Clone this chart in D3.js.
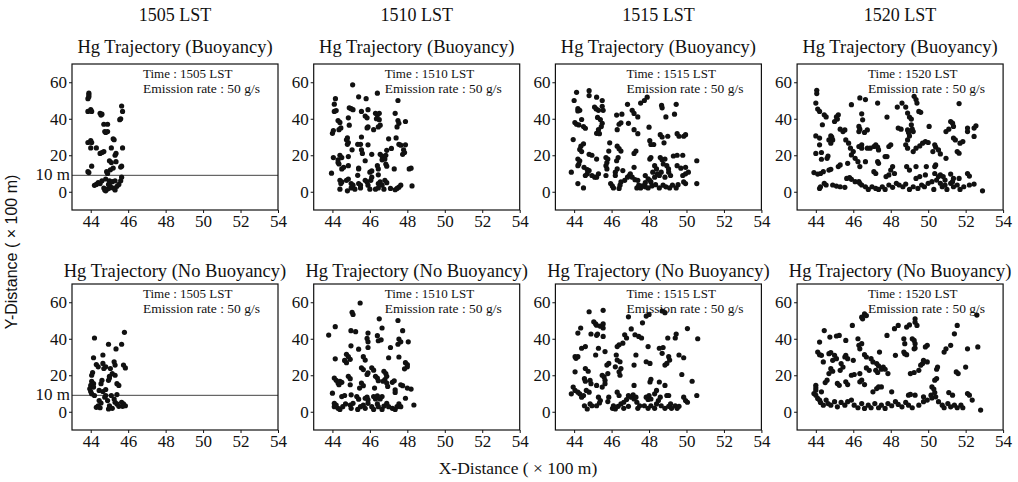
<!DOCTYPE html>
<html>
<head>
<meta charset="utf-8">
<script src="https://cdn.jsdelivr.net/npm/d3@7"></script>
<style>
  body { margin: 0; background: #fff; }
  text { fill: #111; }
</style>
</head>
<body>
<div id="chart"></div>
<script>
// times and titles
var times = ["1505", "1510", "1515", "1520"];
var rowTitles = ["Hg Trajectory (Buoyancy)", "Hg Trajectory (No Buoyancy)"];
var xTicks = [44, 46, 48, 50, 52, 54];
var yTicks = [0, 20, 40, 60];
var refLineY = 9;          // the "10 m" line, only in the 1505 panels
var refLineLabel = "10 m";
var emission = "Emission rate : 50 g/s";

// particle positions [x, y] (x 100 m)
var buoy1505 = [[43.9,54],[43.9,53],[43.85,51],[43.9,52],[43.85,44],[44.0,45],[44.05,44],[44.5,43],[44.55,42],[44.6,42.5],[44.7,37],[44.9,37],[44.75,33],[44.9,33],[44.8,32.5],[43.85,27],[44.0,28],[44.05,27],[44.0,24],[44.3,24],[44.5,21],[44.7,22],[44.6,21.5],[45.2,29],[45.25,28.5],[45.1,24],[45.3,20],[45.35,21],[45.0,17],[45.1,16],[45.35,16.5],[45.2,13],[45.05,12],[45.65,47],[45.7,44],[45.6,40],[45.55,39.5],[45.7,24],[45.65,14],[45.6,13.5],[43.85,11],[43.9,10.5],[44.05,14],[44.85,11],[44.9,10],[44.3,4],[44.4,5],[44.5,4.5],[44.2,3.5],[44.7,2],[44.75,1],[44.8,0.5],[44.9,1.5],[45.0,2],[45.05,3],[45.2,2],[45.3,1],[45.4,3],[45.5,4],[45.6,6],[45.65,8],[44.6,6],[44.8,7],[45.0,6],[45.15,5.5],[45.3,6],[44.95,4]];

var buoy1510 = [[45.08,58.6],[45.4,52],[45.8,51],[46.4,54],[47.5,50],[44.16,51],[44.1,48],[44.9,46],[45.0,45.5],[45.1,45],[45.55,44],[45.75,41.5],[45.85,40.5],[45.9,45],[46.3,43],[46.4,42],[46.5,43],[46.35,40],[46.5,39.5],[44.1,44],[44.2,44.5],[44.3,39],[44.4,38],[44.45,35],[44.35,34],[44,32],[44.05,33.5],[44.85,40.5],[44.9,36.5],[45.9,35.5],[45.85,35],[46.2,34],[46.55,36.5],[46.45,35.5],[47.35,43],[47.5,39],[47.45,35.5],[47.55,37.5],[47.9,38.5],[47.0,29],[47.4,29.5],[47.65,25.5],[47.55,26],[47.9,25.7],[47.8,23],[47.85,21.5],[47.75,20.5],[44.8,29.5],[44.75,28.5],[44.85,27],[44.8,26],[45.35,26],[45.5,26],[45.55,30],[45.9,25.7],[45.05,23],[45.55,23],[45.6,21],[45.75,17],[46.1,20.5],[46.55,20.5],[46.65,19.6],[46.75,18.7],[46.65,17.5],[46.8,17.9],[46.85,20],[46.9,22.7],[47.15,23.75],[44.05,18.75],[44.3,17.5],[44.3,16],[44.35,15.2],[44.4,20],[44.5,18.75],[44.85,19.3],[43.95,10.2],[44.5,12.5],[44.6,13.4],[44.85,14.3],[45.4,12.5],[45.4,13],[45.35,9],[46.0,10.7],[46.1,11.4],[46.4,14.3],[46.45,12.5],[46.45,9.3],[46.1,8],[46.05,6.25],[46.9,14],[46.85,15.2],[47.3,12.5],[48.2,12.9],[48.1,12.5],[44.4,6.25],[44.5,5.4],[44.45,4.5],[44.75,6.25],[44.85,7],[45.0,4.5],[45.1,3.6],[45.4,4.5],[45.5,3.6],[45.75,6.25],[45.85,5.4],[45.9,3.6],[46.45,4.5],[46.55,5.4],[46.65,3.6],[46.8,6.25],[46.9,5],[44.4,1.4],[44.8,0.5],[45.0,2.1],[45.2,1.4],[45.5,2.1],[46.0,1.4],[46.3,1.4],[46.45,2.1],[46.75,1.4],[47.1,1.8],[47.35,1.1],[47.45,1.8],[47.55,2.5],[47.65,3.6],[48.25,3.2]];

var buoy1515 = [[44.13,54.5],[44.0,50],[44.8,55.4],[44.8,52.7],[45.2,51.8],[45.5,50],[44.2,45.5],[44.3,44.6],[44.2,44.3],[45.09,46.4],[45.18,45.4],[45.3,44.6],[45.5,46.8],[45.55,44.6],[44.4,39.6],[44.04,37.9],[44.13,37],[44.25,36.6],[44.5,35.7],[44.6,34.8],[45.25,40.7],[45.4,39.6],[45.5,37.5],[45.45,35.7],[45.3,34],[45.2,32],[45.35,31.8],[46.27,42],[46.55,42.5],[46.85,47.9],[47.1,44.6],[47.2,42.9],[47.4,41],[46.9,37.5],[47.2,34],[47.4,31.8],[46.4,37],[46.5,37.8],[46.3,34],[47.55,48.6],[47.75,50],[47.9,51.8],[48.0,35.4],[48.67,47.3],[48.7,46],[49.45,47.9],[49.36,42.5],[48.9,41],[48.6,31.25],[48.7,30],[49.0,30.4],[49.5,31.8],[49.6,30.4],[49.85,30.4],[49.95,31.25],[43.95,28.6],[44.36,25],[44.5,26.25],[44.3,23.2],[44.4,22],[44.8,20.5],[44.95,20],[45.2,17.9],[44.2,17.9],[44.3,17],[44.25,15.2],[44.2,14.3],[43.85,10.7],[44.2,4.5],[44.5,2.1],[44.53,13.4],[44.7,12.1],[44.7,9.8],[44.6,8.9],[44.95,8.9],[45.1,8],[44.8,11.6],[45.3,9.8],[45.2,8],[45.7,18.75],[45.8,17.9],[45.75,16],[45.85,22.3],[45.9,26.8],[45.7,14.3],[45.75,12.5],[45.7,8.9],[46.3,25],[46.4,23.6],[46.5,22.3],[46.35,18.75],[46.27,17],[46.3,12.5],[46.2,10.7],[46.2,8.9],[46.6,11.6],[45.95,4.5],[46.04,3.2],[46.1,2.1],[46.5,5.4],[46.45,3.6],[46.4,1.8],[46.7,6.25],[46.85,8],[46.95,8.9],[47.0,9.8],[47.1,8],[47.25,6.6],[47.4,6.25],[47.35,2.1],[47.2,21],[47.3,22.3],[47.2,13.4],[48.04,28],[48.1,25.9],[48.25,25.9],[48.04,17.9],[48.1,18.75],[48.6,18.75],[48.7,17.5],[48.85,17.9],[48.8,26.8],[48.3,14.3],[48.4,12.5],[48.76,15.2],[48.95,14.3],[49.04,12.5],[49.3,19.6],[49.5,20],[49.8,20],[49.5,14.3],[49.7,12.9],[49.95,13.4],[50.1,10.7],[49.8,8.9],[49.95,9.8],[49.85,5.4],[49.95,4.5],[50.55,17],[50.55,4.5],[47.8,8.9],[47.95,7.1],[48.04,6.25],[48.1,5.4],[47.8,5],[48.2,10.7],[48.3,8],[47.8,2.7],[47.95,2.1],[48.15,3.2],[48.35,3.9],[48.55,2.1],[48.75,3.6],[48.9,2.7],[49.1,2.1],[49.25,3.6],[49.45,2.1],[49.55,3.9],[47.65,3.2],[47.55,2.1],[47.45,3.6],[48.45,9.8],[48.55,8.9],[48.65,10.7],[48.85,8],[49.05,10.7],[49.15,8.9]];

var buoy1520 = [[44.05,55.6],[44.05,53.8],[44.0,48.6],[44.1,45.3],[44.2,44],[44.45,42.2],[44.55,41],[44.35,36.7],[44.0,30.6],[44.2,29.4],[44.0,21],[44.3,21.5],[44.2,25.7],[44.8,30.6],[44.85,29.9],[44.9,28.4],[44.7,28.4],[44.8,26.6],[45.0,38.5],[45.1,41],[45.2,42.2],[45.15,39.8],[45.3,34.3],[45.55,33.9],[45.45,33],[45.6,28.4],[45.75,26.6],[44.6,18.3],[44.65,19.6],[44.3,17.8],[44.4,11],[44.25,10],[44.1,9.7],[43.9,10.5],[44.7,11.9],[44.8,12.3],[45.2,13.8],[45.3,14.7],[45.7,15.6],[44.45,4.6],[44.2,1.8],[44.25,2.75],[44.55,3.7],[44.9,3.7],[45.1,3.1],[45.3,2.75],[45.55,2.4],[45.65,7.3],[45.8,7.7],[45.9,6.8],[46.1,5.5],[46.3,5.5],[46.35,4.6],[46.45,3.7],[46.65,2.75],[45.9,20.2],[46.0,22],[45.85,23.9],[46.3,35.8],[46.35,34.3],[46.3,33],[46.45,25.7],[46.45,23.9],[46.3,24.8],[46.35,51.4],[46.65,50.5],[46.45,42.7],[46.5,39.4],[45.9,47.7],[46.75,33.9],[46.6,32.5],[46.1,18.3],[46.25,16.5],[46.35,13.8],[46.65,16.5],[46.75,23.9],[46.9,23.9],[47.1,24.8],[47.2,25.7],[47.3,24.4],[47.35,22.9],[47.3,16.5],[47.35,15.6],[47.1,11],[47.2,10],[47.3,48.6],[47.8,40.9],[47.7,19.3],[47.8,19.3],[47.9,24.8],[48.0,25.7],[48.1,13.8],[48.0,11.9],[48.2,10],[47.9,9.2],[47.75,8.3],[48.35,46.4],[48.6,48.6],[48.8,46.4],[48.4,34.9],[48.55,34.3],[48.9,43.1],[49.0,40.9],[49.1,39.8],[48.9,33.9],[48.95,32.5],[49.0,30.6],[48.9,28.4],[48.9,23.9],[48.8,25.7],[49.1,36.7],[49.15,34.3],[49.2,33],[49.25,52.3],[49.35,50.5],[49.4,48.6],[49.5,44],[49.6,43.5],[49.2,22],[49.35,23.9],[49.55,25.1],[49.7,26.6],[49.85,27.5],[50.0,27],[50.05,35.8],[48.85,13.8],[49.0,11.9],[49.35,13.8],[49.9,13.8],[49.85,9.2],[49.55,8.3],[49.35,7.3],[50.35,25.7],[50.4,24.4],[50.25,22],[50.55,22.9],[50.65,20.7],[50.95,33],[51.1,34.3],[50.95,18.3],[51.2,38.5],[51.3,37.6],[51.35,35.8],[50.4,14.7],[50.35,13.8],[50.35,10],[50.55,8.3],[50.65,9.2],[51.35,29.4],[51.45,28.4],[51.55,22],[51.65,21.1],[51.7,26.6],[51.85,27.5],[51.65,48.3],[52.1,34.9],[52.1,33],[52.45,34.9],[52.55,36.1],[52.45,30.3],[52.1,10],[52.2,8.6],[52.45,4.2],[52.9,0.5],[46.8,1.3],[47.0,2.75],[47.2,1.8],[47.35,1.3],[47.55,2.75],[47.7,1.3],[47.9,3.7],[48.1,2.4],[48.3,4.6],[48.45,3.7],[48.65,2.75],[48.8,4.2],[49.0,1.3],[49.2,2.75],[49.45,1.8],[49.65,3.7],[49.8,2.75],[50.0,4.6],[50.2,5.5],[50.3,1.3],[50.45,6.4],[50.65,4.6],[50.75,2.75],[50.9,3.7],[51.0,1.3],[51.2,4.6],[51.3,5.5],[51.35,2.75],[51.55,3.7],[51.7,1.3],[51.9,2.75],[52.2,3.7],[51.35,7.3],[51.2,9.7],[51.65,7.3],[50.8,8.3],[50.9,6.4]];

var noBuoy1505 = [[44.2,40.4],[45.8,43.5],[44.95,37],[45.35,34.4],[45.65,37],[44.15,29.6],[44.65,31.1],[44.3,25.9],[44.65,26.5],[44.8,24.6],[44.7,23.7],[45.25,27.4],[45.3,25.6],[45.75,25.6],[45.85,24],[45.05,23.7],[45.15,20.9],[45.0,19.4],[44.1,21.5],[44.05,20],[44.4,24.6],[44.05,16.7],[44.15,15.4],[44.0,14.4],[44.15,13.5],[44.6,17.2],[44.55,15.4],[44.95,17.2],[45.0,18.5],[45.4,15.4],[45.5,14.4],[45.3,20],[44.0,11.1],[44.05,9.8],[44.2,8.9],[44.45,11.7],[44.65,11.1],[44.8,12.2],[44.75,8],[44.8,8.9],[44.9,6.1],[44.45,6.1],[44.55,4.8],[44.4,3.3],[44.5,2.2],[45.0,3.3],[44.95,1.5],[45.15,1.9],[45.25,7],[45.3,5.2],[45.4,4.3],[45.5,3],[45.65,5.2],[45.75,4.3],[45.85,3.3],[45.7,3],[44.3,2.4],[43.95,12.6],[45.4,9.4],[45.1,8.9]];

var noBuoy1510 = [[45.48,59.6],[45.05,54.5],[45.1,53.3],[47.5,50],[43.8,42],[44.99,44.4],[45.24,43.9],[46.5,50.9],[46.65,45.9],[46.6,39.4],[46.45,38.9],[46.4,41.7],[45.9,43.1],[45.85,40.2],[45.9,38.3],[44.99,36.1],[45.4,34.3],[45.9,35.2],[44.15,46.6],[44.15,29],[44.75,31.5],[44.85,30.2],[44.95,28.7],[44.65,28.1],[44.75,26.9],[45.65,30.2],[45.75,28.3],[47.1,35.2],[47.55,39.8],[47.65,38.3],[47.5,37],[47.75,44.4],[48.05,38.3],[47.0,29.6],[47.55,30],[47.9,26.9],[48.0,24.6],[47.85,23.5],[48.0,25.9],[45.55,24.1],[45.65,23.1],[45.85,20.4],[45.9,21.3],[46.1,24.1],[46.2,22.8],[46.4,18.5],[46.75,22.2],[46.85,20.9],[46.9,19.4],[46.8,17.6],[46.7,16.7],[46.9,15.7],[46.95,13.9],[44.1,18.5],[44.2,17.2],[44.3,15.7],[44.4,16.7],[44.5,16.1],[44.35,14.8],[44.0,10.2],[44.85,19.4],[44.95,18.1],[44.95,14.8],[45.55,15.7],[45.65,14.3],[45.45,13],[46.25,13],[46.3,19.4],[46.45,17],[47.2,16.1],[47.3,17],[47.65,14.8],[47.75,14.3],[48.0,13],[48.2,12.4],[47.9,7.4],[47.35,12],[47.35,10.6],[44.5,8.3],[44.65,8.9],[45.0,9.3],[45.3,8.3],[45.4,6.9],[45.85,8],[45.9,6.5],[45.75,7.4],[46.2,8.3],[46.3,7],[46.4,8.7],[46.65,8.3],[46.55,7],[44.1,4.6],[44.2,3.7],[44.1,2.8],[44.3,1.9],[44.4,1.3],[44.55,2.8],[44.7,4.3],[44.95,3.7],[45.0,1.9],[45.1,4.6],[45.35,1.3],[45.5,2.8],[45.65,3.7],[45.75,1.9],[45.9,4.6],[46.1,2.8],[46.2,1.3],[46.4,4.3],[46.45,2.8],[46.65,1.3],[46.75,3.1],[46.9,4.6],[47.0,2.8],[47.2,1.9],[47.35,1.3],[47.45,2.8],[47.55,4.3],[47.65,2.8],[48.35,3.7]];

var noBuoy1515 = [[44.8,54.8],[45.55,55.6],[44.35,45.9],[44.2,43.1],[45.05,49.3],[45.15,48.1],[45.2,47.4],[45.4,46.9],[45.55,48.1],[45.55,45.9],[44.9,42.6],[45.2,41.9],[45.25,42.6],[45.55,41.3],[46.9,52],[47.85,52.4],[48.0,53.3],[48.7,55.2],[48.85,54.3],[47.05,45.4],[47.25,42.2],[47.45,41.3],[47.6,40.4],[47.65,48.7],[46.7,42.2],[46.8,40.4],[46.6,37.6],[46.4,36.7],[46.3,35.7],[49.0,40.4],[49.45,42.6],[49.4,40.4],[50.05,45.6],[50.6,40],[44.05,30.2],[44.1,29.3],[44.2,30.2],[44.4,34.8],[44.6,35.7],[45.3,34.8],[45.15,31.1],[45.65,33],[45.85,26.5],[45.75,25.6],[46.25,31.1],[46.3,28.3],[46.45,27.4],[47.3,31.1],[47.2,25.6],[47.85,27.4],[48.05,26.5],[47.95,35.7],[48.55,34.8],[48.75,35.2],[48.7,32],[49.05,30.2],[49.1,28.3],[48.95,26.5],[48.85,25.6],[49.6,31.1],[49.85,29.6],[44.05,21.9],[44.55,18.1],[44.6,16.7],[44.6,23.7],[44.75,22.2],[44.85,17.2],[44.9,15.4],[45.2,14.4],[45.6,19.1],[45.65,17.2],[45.5,20],[45.8,20.9],[45.65,15.4],[45.5,13.5],[46.4,21.9],[46.45,20],[46.5,23.7],[46.2,24.6],[47.2,14.4],[48.05,16.3],[48.1,17.8],[48.55,16.3],[48.85,14.4],[49.75,20.4],[50.3,16.7],[43.95,13.5],[44.05,11.7],[44.2,10.7],[44.3,9.8],[43.85,9.8],[44.4,8],[44.5,8.9],[44.8,10.7],[44.65,11.7],[44.55,3.3],[44.7,1.5],[44.85,4.3],[44.95,3.3],[45.3,8],[45.4,6.1],[45.2,3.3],[45.35,4.8],[45.85,8],[45.8,5.6],[46.3,10.7],[46.4,8.9],[46.05,1.9],[46.2,1.5],[46.1,3.3],[46.35,3],[46.5,4.3],[46.65,5.2],[46.8,6.7],[46.9,8.9],[47.05,8],[47.15,9.3],[47.2,7],[47.3,8],[47.35,5.2],[47.4,1.9],[47.5,3.3],[46.65,1.9],[46.9,3],[47.85,8],[47.95,6.7],[48.0,8.9],[48.1,7],[47.75,3.3],[47.95,1.9],[48.1,3.3],[48.3,1.9],[48.4,4.3],[48.5,6.1],[48.6,8],[48.3,9.8],[48.4,11.7],[48.65,3.3],[48.85,1.9],[49.05,3],[49.15,4.3],[49.2,1.9],[49.4,3.3],[49.5,1.9],[49.6,3],[48.95,8.9],[49.05,8.9],[49.85,8],[49.95,6.1],[50.05,5.2],[50.55,8.9]];

var noBuoy1520 = [[46.6,53.6],[46.7,52.7],[46.45,51.8],[46.5,50.9],[45.95,47.3],[44.45,44.5],[44.2,38.2],[44.75,40.9],[45.1,41.5],[45.25,41.8],[45.6,39.1],[44.1,32.7],[44.2,31.3],[44.3,30.9],[44.7,31.8],[44.8,32.4],[44.4,27.3],[45.0,30.9],[45.1,29.1],[44.9,28.2],[45.55,30],[45.6,30.9],[45.7,29.1],[46.25,40],[46.3,36.4],[46.35,34.5],[46.6,31.3],[46.7,30],[46.0,28.2],[46.45,37.3],[47.4,32.7],[47.8,41.8],[48.2,45.5],[48.4,47.3],[48.7,40],[48.75,37.3],[48.85,46.4],[49.0,47.6],[49.3,50.9],[49.3,49.1],[49.4,47.3],[49.15,40],[49.25,39.1],[49.3,37.3],[48.7,32.7],[48.75,31.8],[48.85,31.3],[49.25,34.5],[49.3,34.9],[49.85,35.5],[49.95,36.4],[49.75,28.2],[49.7,26.4],[49.6,25.5],[49.95,27.3],[49.5,22.7],[49.25,21.5],[49.05,20.9],[48.25,30.9],[47.6,24.5],[47.7,23.3],[46.95,29.1],[47.05,27.3],[47.25,26.4],[47.35,25.1],[47.5,23.3],[47.2,22.7],[47.3,21.5],[47.85,20.9],[46.7,24],[46.85,22.7],[46.35,20.9],[45.9,20],[46.05,20.4],[45.35,26.4],[45.45,24.5],[45.3,22.7],[44.8,23.6],[44.9,22.2],[44.7,20.9],[44.6,17.3],[44.5,16],[44.3,10.9],[44.0,11.8],[43.9,10],[44.0,14.5],[44.0,13.1],[45.15,15.5],[45.25,14.5],[45.6,16.4],[45.7,14.9],[46.35,16.4],[46.45,17.3],[46.6,14.9],[47.25,12.7],[47.35,13.6],[47.05,10.9],[47.5,13.6],[48.05,10.9],[48.95,9.1],[49.05,9.5],[49.3,9.1],[49.75,8.2],[50.2,13.6],[50.3,12.4],[50.35,10.5],[50.45,23.3],[50.5,24.5],[50.35,17.3],[50.45,18.2],[50.85,32.7],[50.95,34.5],[51.2,36.4],[51.4,42.7],[51.55,47.3],[51.5,21.8],[51.6,20.9],[52.0,24.5],[52.1,34.5],[52.65,35.5],[52.6,53],[52.1,10],[52.2,9.1],[52.35,6.4],[52.8,0.9],[51.1,10.5],[51.3,9.1],[44.0,9.1],[44.1,7.3],[44.2,6.4],[44.25,5.1],[44.4,3.6],[44.55,6.4],[44.65,4.5],[44.8,3.6],[45.0,5.5],[45.15,2.7],[45.35,5.1],[45.55,3.6],[45.7,5.5],[45.9,6.4],[46.05,3.6],[46.25,2.2],[46.45,4.5],[46.6,1.8],[46.8,3.6],[46.95,2.2],[47.15,4.5],[47.35,2.2],[47.5,3.6],[47.7,1.8],[47.85,4.5],[48.05,3.3],[48.25,5.5],[48.4,4],[48.6,2.7],[48.8,5.1],[48.95,3.6],[49.15,2.2],[49.5,3.6],[49.75,5.5],[49.95,6.4],[50.15,9.1],[50.2,7.6],[50.4,8.2],[50.55,5.5],[50.75,3.6],[50.85,2.2],[51.05,4.5],[51.2,2.7],[51.4,3.6],[51.55,2.2],[51.75,3.6],[51.85,2.2]];

var rowData = [
  [buoy1505, buoy1510, buoy1515, buoy1520],
  [noBuoy1505, noBuoy1510, noBuoy1515, noBuoy1520]
];

(function(){
  var width = 1018,
    height = 482;

  var serif = "'Liberation Serif', 'Times New Roman', serif";

  var svg = d3.select("#chart")
    .append("svg")
    .attr("width", width)
    .attr("height", height)
    .style("font-family", serif);

  // panel geometry
  var pw = 206, ph = 146;
  var colLeft = function(i) { return 72 + i * 241.7; };
  var rowTop = [64, 284];
  var rowTitleY = [53, 277];

  var x = d3.scaleLinear().domain([43, 54]).range([0, pw]);
  var y = d3.scaleLinear().domain([-10, 70]).range([ph, 0]);

  // time headers
  svg.selectAll(".time-head")
    .data(times)
    .enter().append("text")
    .attr("class", "time-head")
    .attr("x", function(d, i) { return colLeft(i) + pw / 2; })
    .attr("y", 21)
    .attr("text-anchor", "middle")
    .style("font-size", "18px")
    .text(function(d) { return d + " LST"; });

  rowData.forEach(function(row, r) {
    row.forEach(function(pts, c) {
      var g = svg.append("g")
        .attr("transform", "translate(" + colLeft(c) + "," + rowTop[r] + ")");

      // panel title
      svg.append("text")
        .attr("x", colLeft(c) + pw / 2)
        .attr("y", rowTitleY[r])
        .attr("text-anchor", "middle")
        .style("font-size", "18.5px")
        .text(rowTitles[r]);

      // axes
      var xAxis = g.append("g")
        .attr("transform", "translate(0," + ph + ")")
        .call(d3.axisBottom(x).tickValues(xTicks).tickSize(3).tickPadding(2));
      var yAxis = g.append("g")
        .call(d3.axisLeft(y).tickValues(yTicks).tickSize(3).tickPadding(2));
      [xAxis, yAxis].forEach(function(a) {
        a.select(".domain").remove();
        a.selectAll("text")
          .style("font-family", serif)
          .style("font-size", "17px")
          .attr("fill", "#111");
        a.selectAll("line").attr("stroke", "#111");
      });

      // reference line at the 1505 panels
      if (c === 0) {
        g.append("line")
          .attr("x1", 0)
          .attr("x2", pw)
          .attr("y1", y(refLineY))
          .attr("y2", y(refLineY))
          .attr("stroke", "#444")
          .attr("stroke-width", 1);
        g.append("text")
          .attr("x", -2)
          .attr("y", y(refLineY))
          .attr("dy", "0.3em")
          .attr("text-anchor", "end")
          .style("font-size", "17px")
          .text(refLineLabel);
      }

      // particles
      g.selectAll(".pt")
        .data(pts)
        .enter().append("circle")
        .attr("class", "pt")
        .attr("cx", function(d) { return x(d[0]); })
        .attr("cy", function(d) { return y(d[1]); })
        .attr("r", 2.6)
        .attr("fill", "#111");

      // annotation
      g.append("text")
        .attr("x", 71)
        .attr("y", 14)
        .style("font-size", "13px")
        .text("Time : " + times[c] + " LST");
      g.append("text")
        .attr("x", 71)
        .attr("y", 29)
        .style("font-size", "13.5px")
        .text(emission);

      // frame
      g.append("rect")
        .attr("width", pw)
        .attr("height", ph)
        .attr("fill", "none")
        .attr("stroke", "#111")
        .attr("stroke-width", 1.2);
    });
  });

  // shared axis titles
  svg.append("text")
    .attr("x", 518)
    .attr("y", 474)
    .attr("text-anchor", "middle")
    .style("font-size", "17.5px")
    .text("X-Distance ( \u00d7 100 m)");

  svg.append("text")
    .attr("transform", "translate(17,252) rotate(-90)")
    .attr("text-anchor", "middle")
    .style("font-family", "'Liberation Sans', Arial, sans-serif")
    .style("font-size", "16px")
    .text("Y-Distance ( \u00d7 100 m)");
})();
</script>
</body>
</html>
